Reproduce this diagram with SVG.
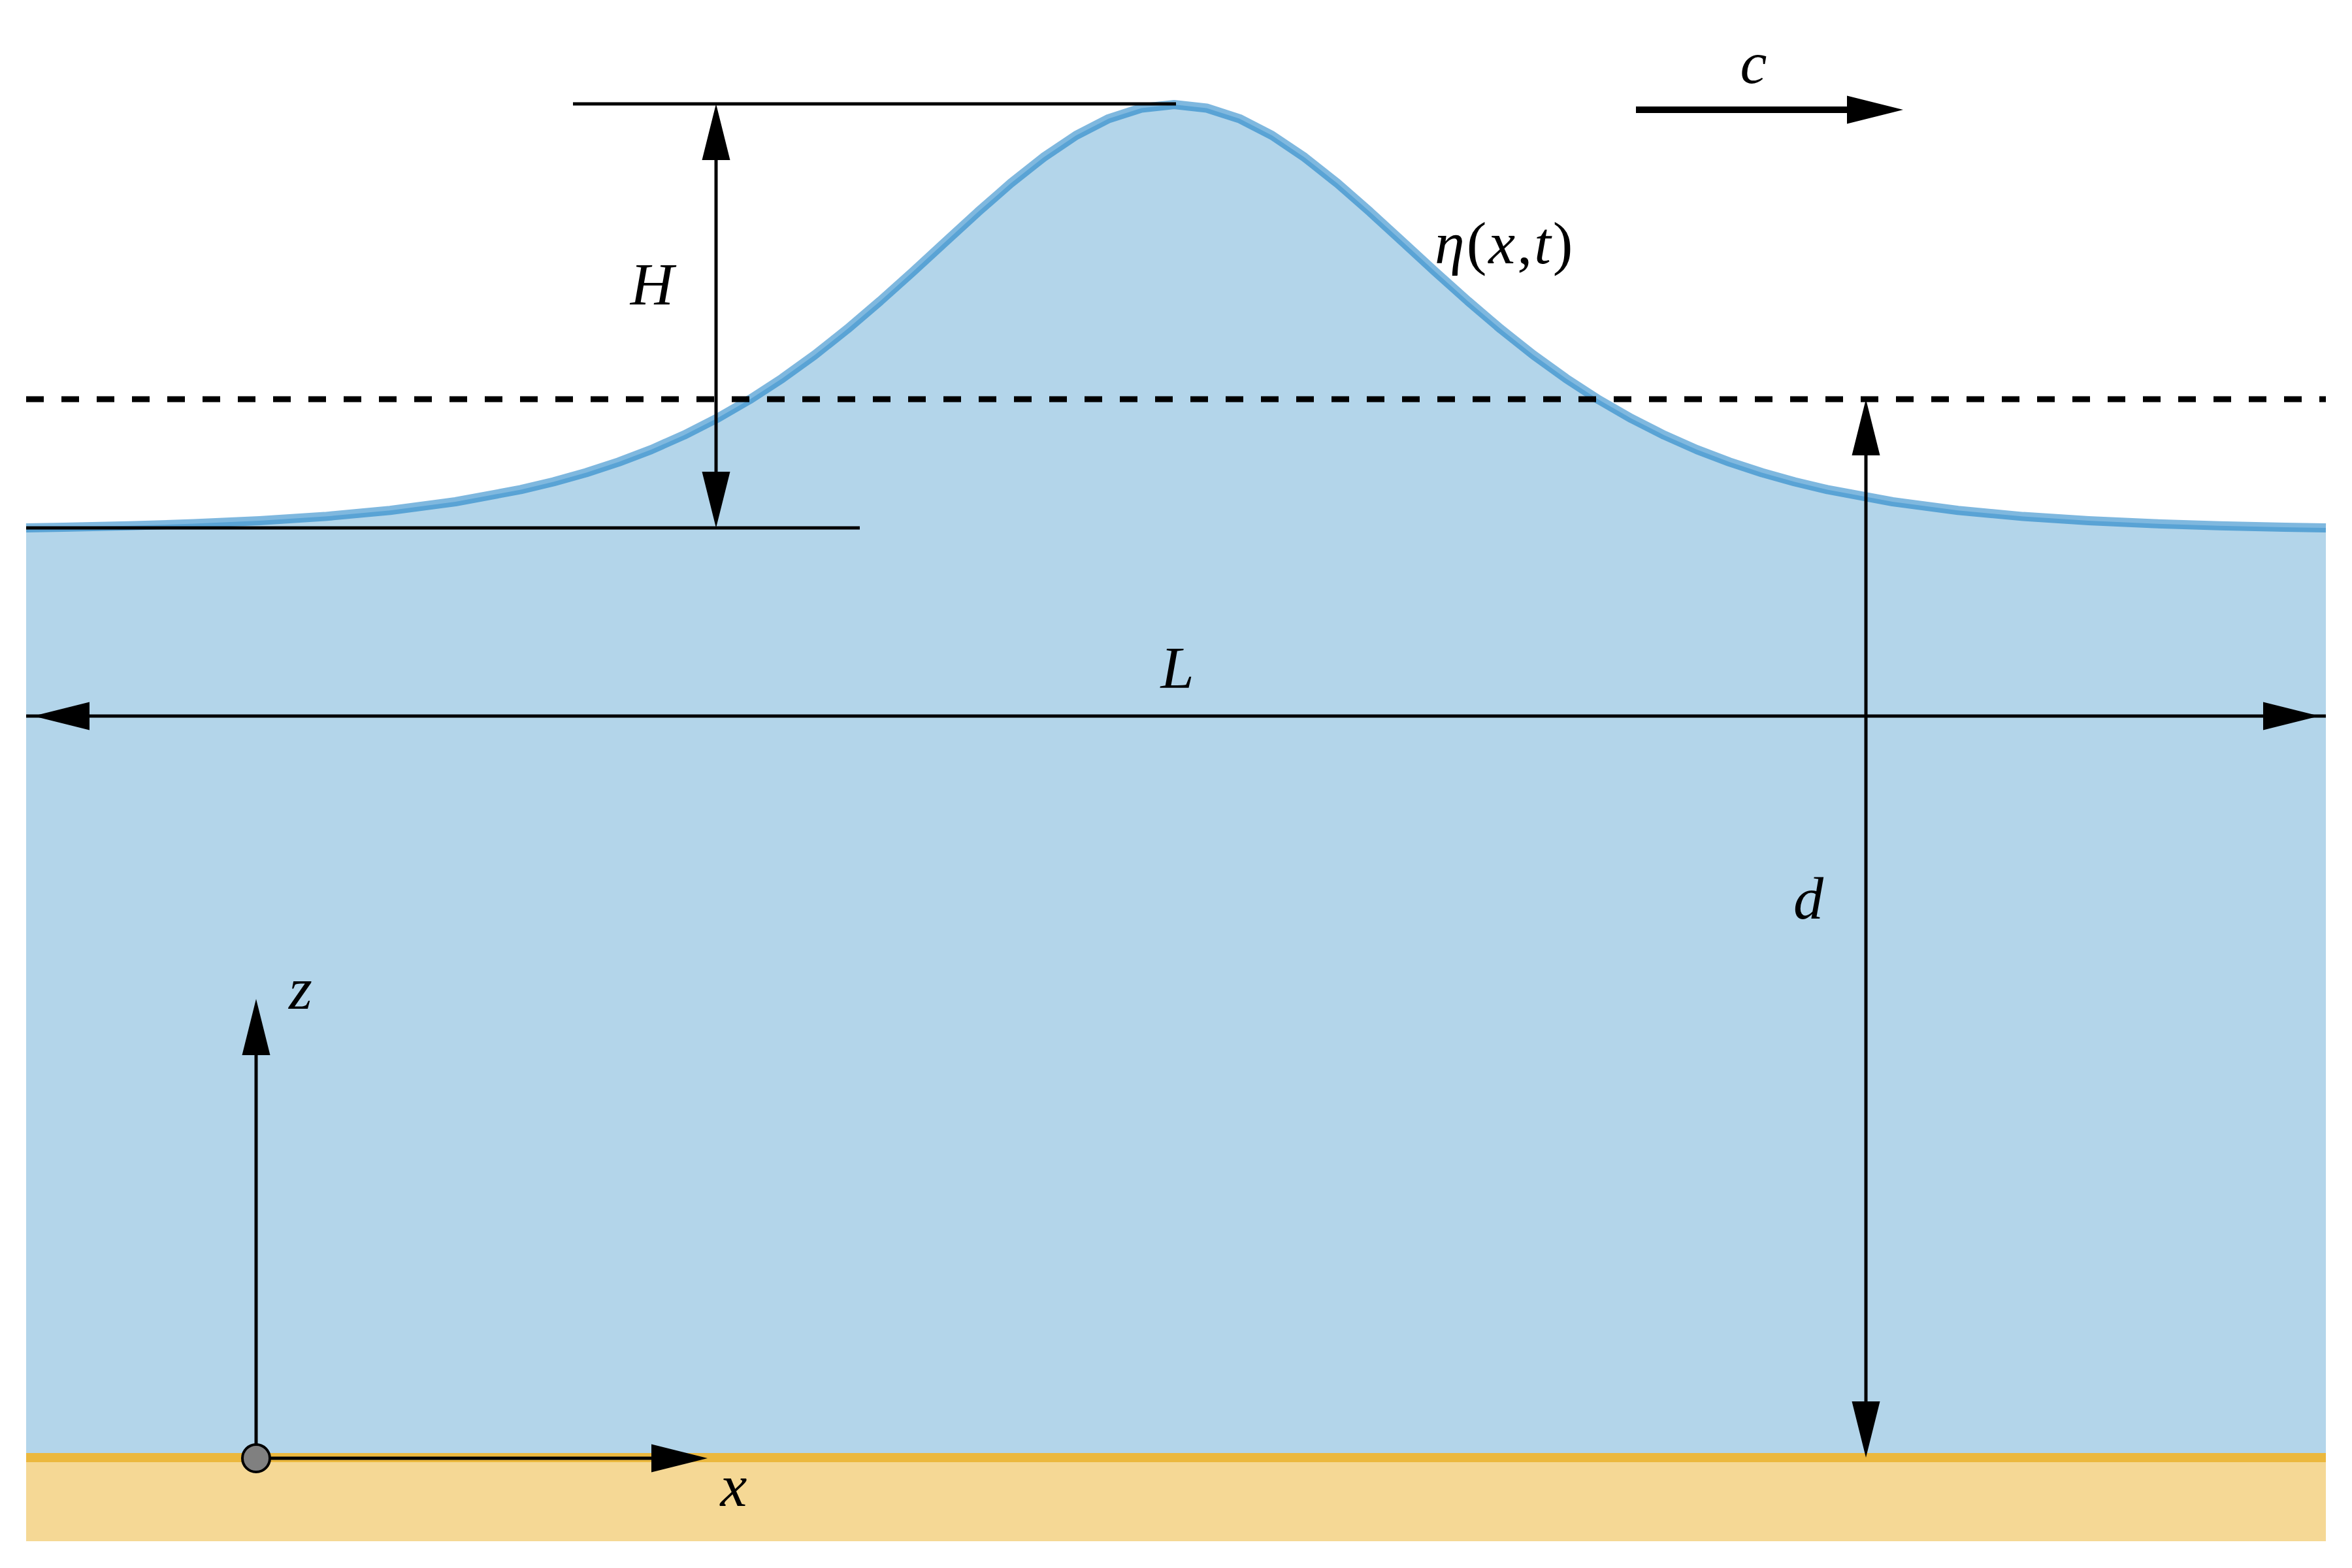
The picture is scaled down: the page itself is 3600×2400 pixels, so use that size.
<svg xmlns="http://www.w3.org/2000/svg" xmlns:xlink="http://www.w3.org/1999/xlink" width="3600" height="2400" viewBox="0 0 3600 2400">
<style>
.dim{stroke:#000;stroke-width:5;fill:none}
.lbl{font-family:"Liberation Serif","DejaVu Serif",serif;font-style:italic;font-size:92px;fill:#000}
.up{font-style:normal}
</style>
<defs>
<path id="head" d="M0,0 L-86,-21.5 L-86,21.5 Z" fill="#000"/>
</defs>
<rect x="0" y="0" width="3600" height="2400" fill="#fff"/>
<g id="water">
<path id="water-fill" fill="#b3d5ea" d="M40,2231 L40,808 L97,807 L197,804.8 L297,801.6 L397,797.1 L497,790.6 L597,781.2 L697,768 L797,749.4 L847,737.5 L897,723.5 L947,707.1 L997,688.1 L1047,665.9 L1097,640.6 L1147,611.8 L1197,579.3 L1247,543.2 L1297,503.6 L1347,460.9 L1397,416.1 L1447,370.1 L1497,324.3 L1547,280.6 L1597,240.9 L1647,207.3 L1697,181.6 L1747,165.5 L1797,160 L1847,165.5 L1897,181.6 L1947,207.3 L1997,240.9 L2047,280.6 L2097,324.3 L2147,370.1 L2197,416.1 L2247,460.9 L2297,503.6 L2347,543.2 L2397,579.3 L2447,611.8 L2497,640.6 L2547,665.9 L2597,688.1 L2647,707.1 L2697,723.5 L2747,737.5 L2797,749.4 L2897,768 L2997,781.2 L3097,790.6 L3197,797.1 L3297,801.6 L3397,804.8 L3497,807 L3560,808 L3560,2231 Z"/>
<path id="surface" fill="none" stroke="#0071bf" stroke-opacity="0.5" stroke-width="14" stroke-linejoin="round" d="M40,808 L97,807 L197,804.8 L297,801.6 L397,797.1 L497,790.6 L597,781.2 L697,768 L797,749.4 L847,737.5 L897,723.5 L947,707.1 L997,688.1 L1047,665.9 L1097,640.6 L1147,611.8 L1197,579.3 L1247,543.2 L1297,503.6 L1347,460.9 L1397,416.1 L1447,370.1 L1497,324.3 L1547,280.6 L1597,240.9 L1647,207.3 L1697,181.6 L1747,165.5 L1797,160 L1847,165.5 L1897,181.6 L1947,207.3 L1997,240.9 L2047,280.6 L2097,324.3 L2147,370.1 L2197,416.1 L2247,460.9 L2297,503.6 L2347,543.2 L2397,579.3 L2447,611.8 L2497,640.6 L2547,665.9 L2597,688.1 L2647,707.1 L2697,723.5 L2747,737.5 L2797,749.4 L2897,768 L2997,781.2 L3097,790.6 L3197,797.1 L3297,801.6 L3397,804.8 L3497,807 L3560,808"/>
</g>
<g id="seabed">
<rect x="40" y="2231" width="3520" height="128" fill="#f5d895"/>
<line x1="40" y1="2231" x2="3560" y2="2231" stroke="#ebb83e" stroke-width="14"/>
</g>
<g id="connectors">
<line id="still-water" x1="40" y1="611" x2="3560" y2="611" stroke="#000" stroke-width="9" stroke-dasharray="27 27"/>
<line class="dim" x1="877" y1="159" x2="1800" y2="159"/>
<line class="dim" x1="40" y1="808" x2="1316" y2="808"/>
<line class="dim" x1="1096" y1="245" x2="1096" y2="722"/>
<use xlink:href="#head" transform="translate(1096,159) rotate(-90)"/>
<use xlink:href="#head" transform="translate(1096,808) rotate(90)"/>
<line class="dim" x1="2856" y1="697" x2="2856" y2="2145"/>
<use xlink:href="#head" transform="translate(2856,611) rotate(-90)"/>
<use xlink:href="#head" transform="translate(2856,2231) rotate(90)"/>
<line class="dim" x1="40" y1="1096" x2="3560" y2="1096"/>
<use xlink:href="#head" transform="translate(51,1096) rotate(180)"/>
<use xlink:href="#head" transform="translate(3550,1096)"/>
<line x1="2504" y1="168" x2="2830" y2="168" stroke="#000" stroke-width="10"/>
<use xlink:href="#head" transform="translate(2913,168)"/>
<line class="dim" x1="392" y1="2232" x2="392" y2="1612"/>
<use xlink:href="#head" transform="translate(392,1529) rotate(-90)"/>
<line class="dim" x1="392" y1="2232" x2="1000" y2="2232"/>
<use xlink:href="#head" transform="translate(1083,2232)"/>
</g>
<g id="origin">
<circle cx="392" cy="2232" r="21" fill="#808080" stroke="#000" stroke-width="4"/>
</g>
<g id="labels">
<text class="lbl" x="998" y="466" text-anchor="middle">H</text>
<text class="lbl" x="2684" y="127" text-anchor="middle">c</text>
<text class="lbl" x="2196" y="403" letter-spacing="3">η<tspan class="up">(</tspan>x<tspan class="up">,</tspan>t<tspan class="up">)</tspan></text>
<text class="lbl" x="1802" y="1053" text-anchor="middle">L</text>
<text class="lbl" x="2768" y="1406" text-anchor="middle">d</text>
<text class="lbl" x="460" y="1544" text-anchor="middle">z</text>
<text class="lbl" x="1123" y="2305" text-anchor="middle">x</text>
</g>
</svg>
